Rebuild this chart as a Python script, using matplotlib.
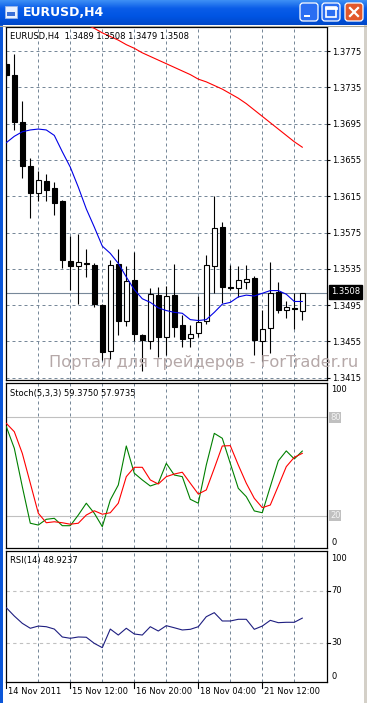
import numpy as np
import matplotlib
matplotlib.use("Agg")
import matplotlib.pyplot as plt
from matplotlib.patches import Rectangle, FancyBboxPatch
from matplotlib.colors import LinearSegmentedColormap

# EURUSD H4 candles, 38 bars
opens = [1.3761, 1.3749, 1.3697, 1.3648, 1.3618, 1.3632, 1.3624, 1.3610, 1.3544, 1.3538,
         1.3541, 1.3539, 1.3495, 1.3444, 1.3540, 1.3478, 1.3523, 1.3462, 1.3455, 1.3506,
         1.3460, 1.3506, 1.3473, 1.3459, 1.3464, 1.3477, 1.3538, 1.3581, 1.3515, 1.3514,
         1.3521, 1.3525, 1.3455, 1.3470, 1.3509, 1.3490, 1.3492, 1.3489]
highs = [1.3773, 1.3772, 1.3720, 1.3657, 1.3643, 1.3640, 1.3631, 1.3611, 1.3571, 1.3573,
         1.3557, 1.3541, 1.3496, 1.3545, 1.3557, 1.3538, 1.3554, 1.3463, 1.3514, 1.3515,
         1.3516, 1.3540, 1.3484, 1.3473, 1.3505, 1.3550, 1.3615, 1.3587, 1.3539, 1.3538,
         1.3539, 1.3527, 1.3490, 1.3542, 1.3521, 1.3499, 1.3508, 1.3508]
lows = [1.3746, 1.3688, 1.3635, 1.3591, 1.3610, 1.3610, 1.3594, 1.3536, 1.3512, 1.3496,
        1.3526, 1.3493, 1.3435, 1.3436, 1.3462, 1.3472, 1.3455, 1.3422, 1.3447, 1.3438,
        1.3440, 1.3460, 1.3449, 1.3449, 1.3460, 1.3474, 1.3508, 1.3497, 1.3512, 1.3504,
        1.3513, 1.3440, 1.3433, 1.3442, 1.3486, 1.3481, 1.3469, 1.3479]
closes = [1.3749, 1.3697, 1.3648, 1.3619, 1.3633, 1.3622, 1.3608, 1.3545, 1.3538, 1.3543,
          1.3540, 1.3496, 1.3443, 1.3539, 1.3478, 1.3522, 1.3463, 1.3456, 1.3507, 1.3460,
          1.3505, 1.3471, 1.3458, 1.3463, 1.3476, 1.3539, 1.3580, 1.3515, 1.3514, 1.3523,
          1.3524, 1.3456, 1.3469, 1.3508, 1.3490, 1.3493, 1.3491, 1.3508]

# moving averages
ma_fast = [1.3674, 1.3681, 1.3686, 1.3688, 1.3689, 1.3688, 1.3682, 1.3664, 1.3647, 1.3625,
           1.3601, 1.3581, 1.3560, 1.3552, 1.3541, 1.3526, 1.3512, 1.3502, 1.3498, 1.3492,
           1.3489, 1.3487, 1.3486, 1.3479, 1.3478, 1.3479, 1.3487, 1.3496, 1.3498, 1.3504,
           1.3506, 1.3505, 1.3508, 1.3511, 1.3511, 1.3507, 1.3499, 1.3499]
ma_slow = [np.nan] * 10 + [1.3804, 1.3800, 1.3795, 1.3791, 1.3787, 1.3782, 1.3778, 1.3773,
                           1.3769, 1.3765, 1.3761, 1.3757, 1.3753, 1.3749, 1.3744, 1.3741,
                           1.3737, 1.3733, 1.3728, 1.3723, 1.3717, 1.3710, 1.3703, 1.3696,
                           1.3689, 1.3682, 1.3675, 1.3669]

# Stochastic(5,3,3)
stoch_main = [74.3, 61.1, 37.7, 15.4, 14.3, 17.8, 18.4, 13.9, 13.9, 20.4,
              27.6, 21.5, 13.3, 29.6, 38.7, 62.5, 45.9, 41.8, 38.1, 39.8,
              51.9, 44.8, 43.8, 30.0, 27.6, 50.9, 70.2, 67.2, 51.9, 36.7,
              31.6, 22.9, 21.8, 37.7, 53.4, 59.5, 54.6, 59.4]
stoch_signal = [76.3, 71.2, 58.0, 39.8, 21.5, 15.7, 16.3, 15.7, 14.8, 15.4,
                20.4, 23.0, 20.9, 21.8, 27.6, 43.8, 49.5, 49.5, 41.8, 39.3,
                43.8, 45.4, 46.5, 39.8, 33.2, 35.7, 48.9, 62.5, 62.7, 50.9,
                39.8, 30.6, 24.9, 26.5, 38.1, 49.9, 55.6, 58.0]

# RSI(14)
rsi = [56.9, 50.5, 44.9, 41.1, 42.8, 42.3, 40.5, 34.4, 33.4, 34.4,
       34.2, 29.5, 26.2, 40.5, 35.9, 41.1, 36.7, 35.9, 42.3, 39.0,
       43.1, 41.5, 39.8, 40.3, 42.3, 50.0, 53.1, 46.7, 46.7, 48.0,
       48.0, 40.3, 42.8, 47.2, 45.4, 45.7, 45.7, 48.9]

price_ticks = [1.3775, 1.3735, 1.3695, 1.3655, 1.3615, 1.3575, 1.3535, 1.3495, 1.3455, 1.3415]
bid = 1.3508
date_pos = [0, 8, 16, 24, 32]
date_labels = ["14 Nov 2011", "15 Nov 12:00", "16 Nov 20:00", "18 Nov 04:00", "21 Nov 12:00"]

W, H = 367, 703
FS = 6
GRID = "#778899"
plt.rcParams["font.family"] = ["DejaVu Sans"]


def box(left, top, right, bottom):
    return [left / W, 1 - bottom / H, (right - left) / W, (bottom - top) / H]


fig = plt.figure(figsize=(W / 100, H / 100), dpi=100, facecolor="white")

ax1 = fig.add_axes(box(6, 27, 327, 380))
ax2 = fig.add_axes(box(6, 383, 327, 548))
ax3 = fig.add_axes(box(6, 551, 327, 682))

x = np.arange(len(opens))
o, h, l, c = map(np.array, (opens, highs, lows, closes))
xl = (-0.0375, 40.09)

for ax in (ax1, ax2, ax3):
    ax.set_xlim(*xl)
    for s in ax.spines.values():
        s.set_linewidth(0.9)
        s.set_color("black")
    ax.set_xticks([])
    for g in range(4, 40, 4):
        ax.axvline(g, color=GRID, lw=0.72, ls=(0, (3, 3)), zorder=1)

# ---- main price panel
ax1.set_ylim(1.341247, 1.380145)
for p in price_ticks:
    ax1.axhline(p, color=GRID, lw=0.72, ls=(0, (3, 3)), zorder=1)
ax1.axhline(bid, color=GRID, lw=0.8, zorder=1)

ax1.vlines(x, l, h, color="black", lw=0.8, zorder=2)
up = c >= o
ax1.bar(x, np.maximum(np.abs(c - o), 0.00002), bottom=np.minimum(o, c), width=0.62,
        color=np.where(up, "white", "black"), edgecolor="black", lw=0.8, zorder=3)
ax1.plot(x, ma_fast, color="#0000e6", lw=0.8, zorder=4)
ax1.plot(x, ma_slow, color="#ff0000", lw=0.8, zorder=4)

ax1.yaxis.tick_right()
ax1.set_yticks(price_ticks)
ax1.set_yticklabels([f"{p:.4f}" for p in price_ticks])
ax1.tick_params(axis="y", direction="out", length=2.5, width=0.8, pad=1, labelsize=FS)

# ---- stochastic
ax2.set_ylim(0.3, 100.9)
ax2.set_yticks([])
for lv in (80, 20):
    ax2.axhline(lv, color="#c0c0c0", lw=0.8, zorder=1)
ax2.plot(x, stoch_main, color="#008000", lw=0.8, zorder=3)
ax2.plot(x, stoch_signal, color="#ff0000", lw=0.8, zorder=3)

# ---- RSI
ax3.set_ylim(-0.2, 100.5)
ax3.set_yticks([])
for lv in (70, 30):
    ax3.axhline(lv, color="#c0c0c0", lw=0.8, ls=(0, (3, 3)), zorder=1)
ax3.plot(x, rsi, color="#1e1e80", lw=0.8, zorder=3)

# ---- pixel overlay for window chrome and free text
ov = fig.add_axes([0, 0, 1, 1], zorder=10)
ov.set_facecolor("none")
ov.axis("off")

cmap = LinearSegmentedColormap.from_list("xp", ["#3d8ff5", "#0a5de8", "#0054e3", "#0048c8"])
ov.imshow(np.linspace(0, 1, 50)[:, None], extent=(0, W, 25, 0), aspect="auto", cmap=cmap, zorder=1)
ov.set_xlim(0, W)
ov.set_ylim(H, 0)

# window borders
ov.add_patch(Rectangle((0, 25), 3, H - 25, color="#0b56d8", lw=0, zorder=1))
ov.add_patch(Rectangle((364, 25), 3, H - 25, color="#d4d0c8", lw=0, zorder=1))
ov.plot([0, W], [25.5, 25.5], color="#aca899", lw=0.8, zorder=1)

# title icon, text and buttons
ov.add_patch(Rectangle((5, 6), 12, 12, facecolor="#e8f0ff", edgecolor="#9bb6e8", lw=0.6, zorder=2))
ov.add_patch(Rectangle((7, 12), 8, 4, facecolor="#3a6fd8", lw=0, zorder=3))
ov.text(23, 12.5, "EURUSD,H4", color="white", fontsize=9, fontweight="bold",
        va="center", ha="left", zorder=3)
for bx, fc in ((300, "#2a6ef2"), (322, "#2a6ef2"), (345, "#e2582c")):
    ov.add_patch(FancyBboxPatch((bx, 3), 18, 18, boxstyle="round,pad=0,rounding_size=3",
                                facecolor=fc, edgecolor="white", lw=0.9, zorder=3))
ov.add_patch(Rectangle((304, 15), 6, 2, color="white", lw=0, zorder=4))
ov.add_patch(Rectangle((326, 7), 10, 10, facecolor="none", edgecolor="white", lw=1.2, zorder=4))
ov.plot([326, 336], [8, 8], color="white", lw=2, zorder=4)
ov.plot([350, 358], [8, 16], color="white", lw=1.6, zorder=4)
ov.plot([350, 358], [16, 8], color="white", lw=1.6, zorder=4)

# panel captions
ov.text(10, 37, "EURUSD,H4  1.3489 1.3508 1.3479 1.3508", fontsize=FS, va="center", zorder=5)
ov.text(10, 393.5, "Stoch(5,3,3) 59.3750 57.9735", fontsize=FS, va="center", zorder=5)
ov.text(10, 561, "RSI(14) 48.9237", fontsize=FS, va="center", zorder=5)

# bid price box
ov.text(331, 292, f"{bid:.4f}", color="white", fontsize=FS, va="center", ha="left", zorder=6,
        bbox=dict(boxstyle="square,pad=0.25", fc="black", ec="black"))

# indicator scales
for txt, yy in (("100", 390), ("0", 542.7)):
    ov.text(331, yy, txt, fontsize=FS, va="center", ha="left", zorder=5)
for txt, yy in (("80", 417.3), ("20", 515.7)):
    ov.text(330, yy, txt, fontsize=FS, va="center", ha="left", color="#f4f4f4", zorder=5,
            bbox=dict(boxstyle="square,pad=0.1", fc="#c0c0c0", ec="none"))
for txt, yy in (("100", 558.3), ("70", 590.7), ("30", 642.7), ("0", 676.7)):
    ov.text(331, yy, txt, fontsize=FS, va="center", ha="left", zorder=5)
for yy in (590.7, 642.7):
    ov.plot([327, 330], [yy, yy], color="black", lw=0.8, zorder=5)

# time axis
for pos, lab in zip(date_pos, date_labels):
    px = 6.3 + 8 * pos
    ov.plot([px, px], [682, 688], color="black", lw=0.8, zorder=5)
    ov.text(px + 1.5, 692, lab, fontsize=FS, va="center", ha="left", zorder=5)

# watermark
ov.text(49, 366.5, "Портал для трейдеров - ForTrader.ru", fontsize=11.7, color="#b5a8a8",
        va="baseline", ha="left", zorder=6)

fig.savefig("out.png", dpi=100, facecolor="white")
